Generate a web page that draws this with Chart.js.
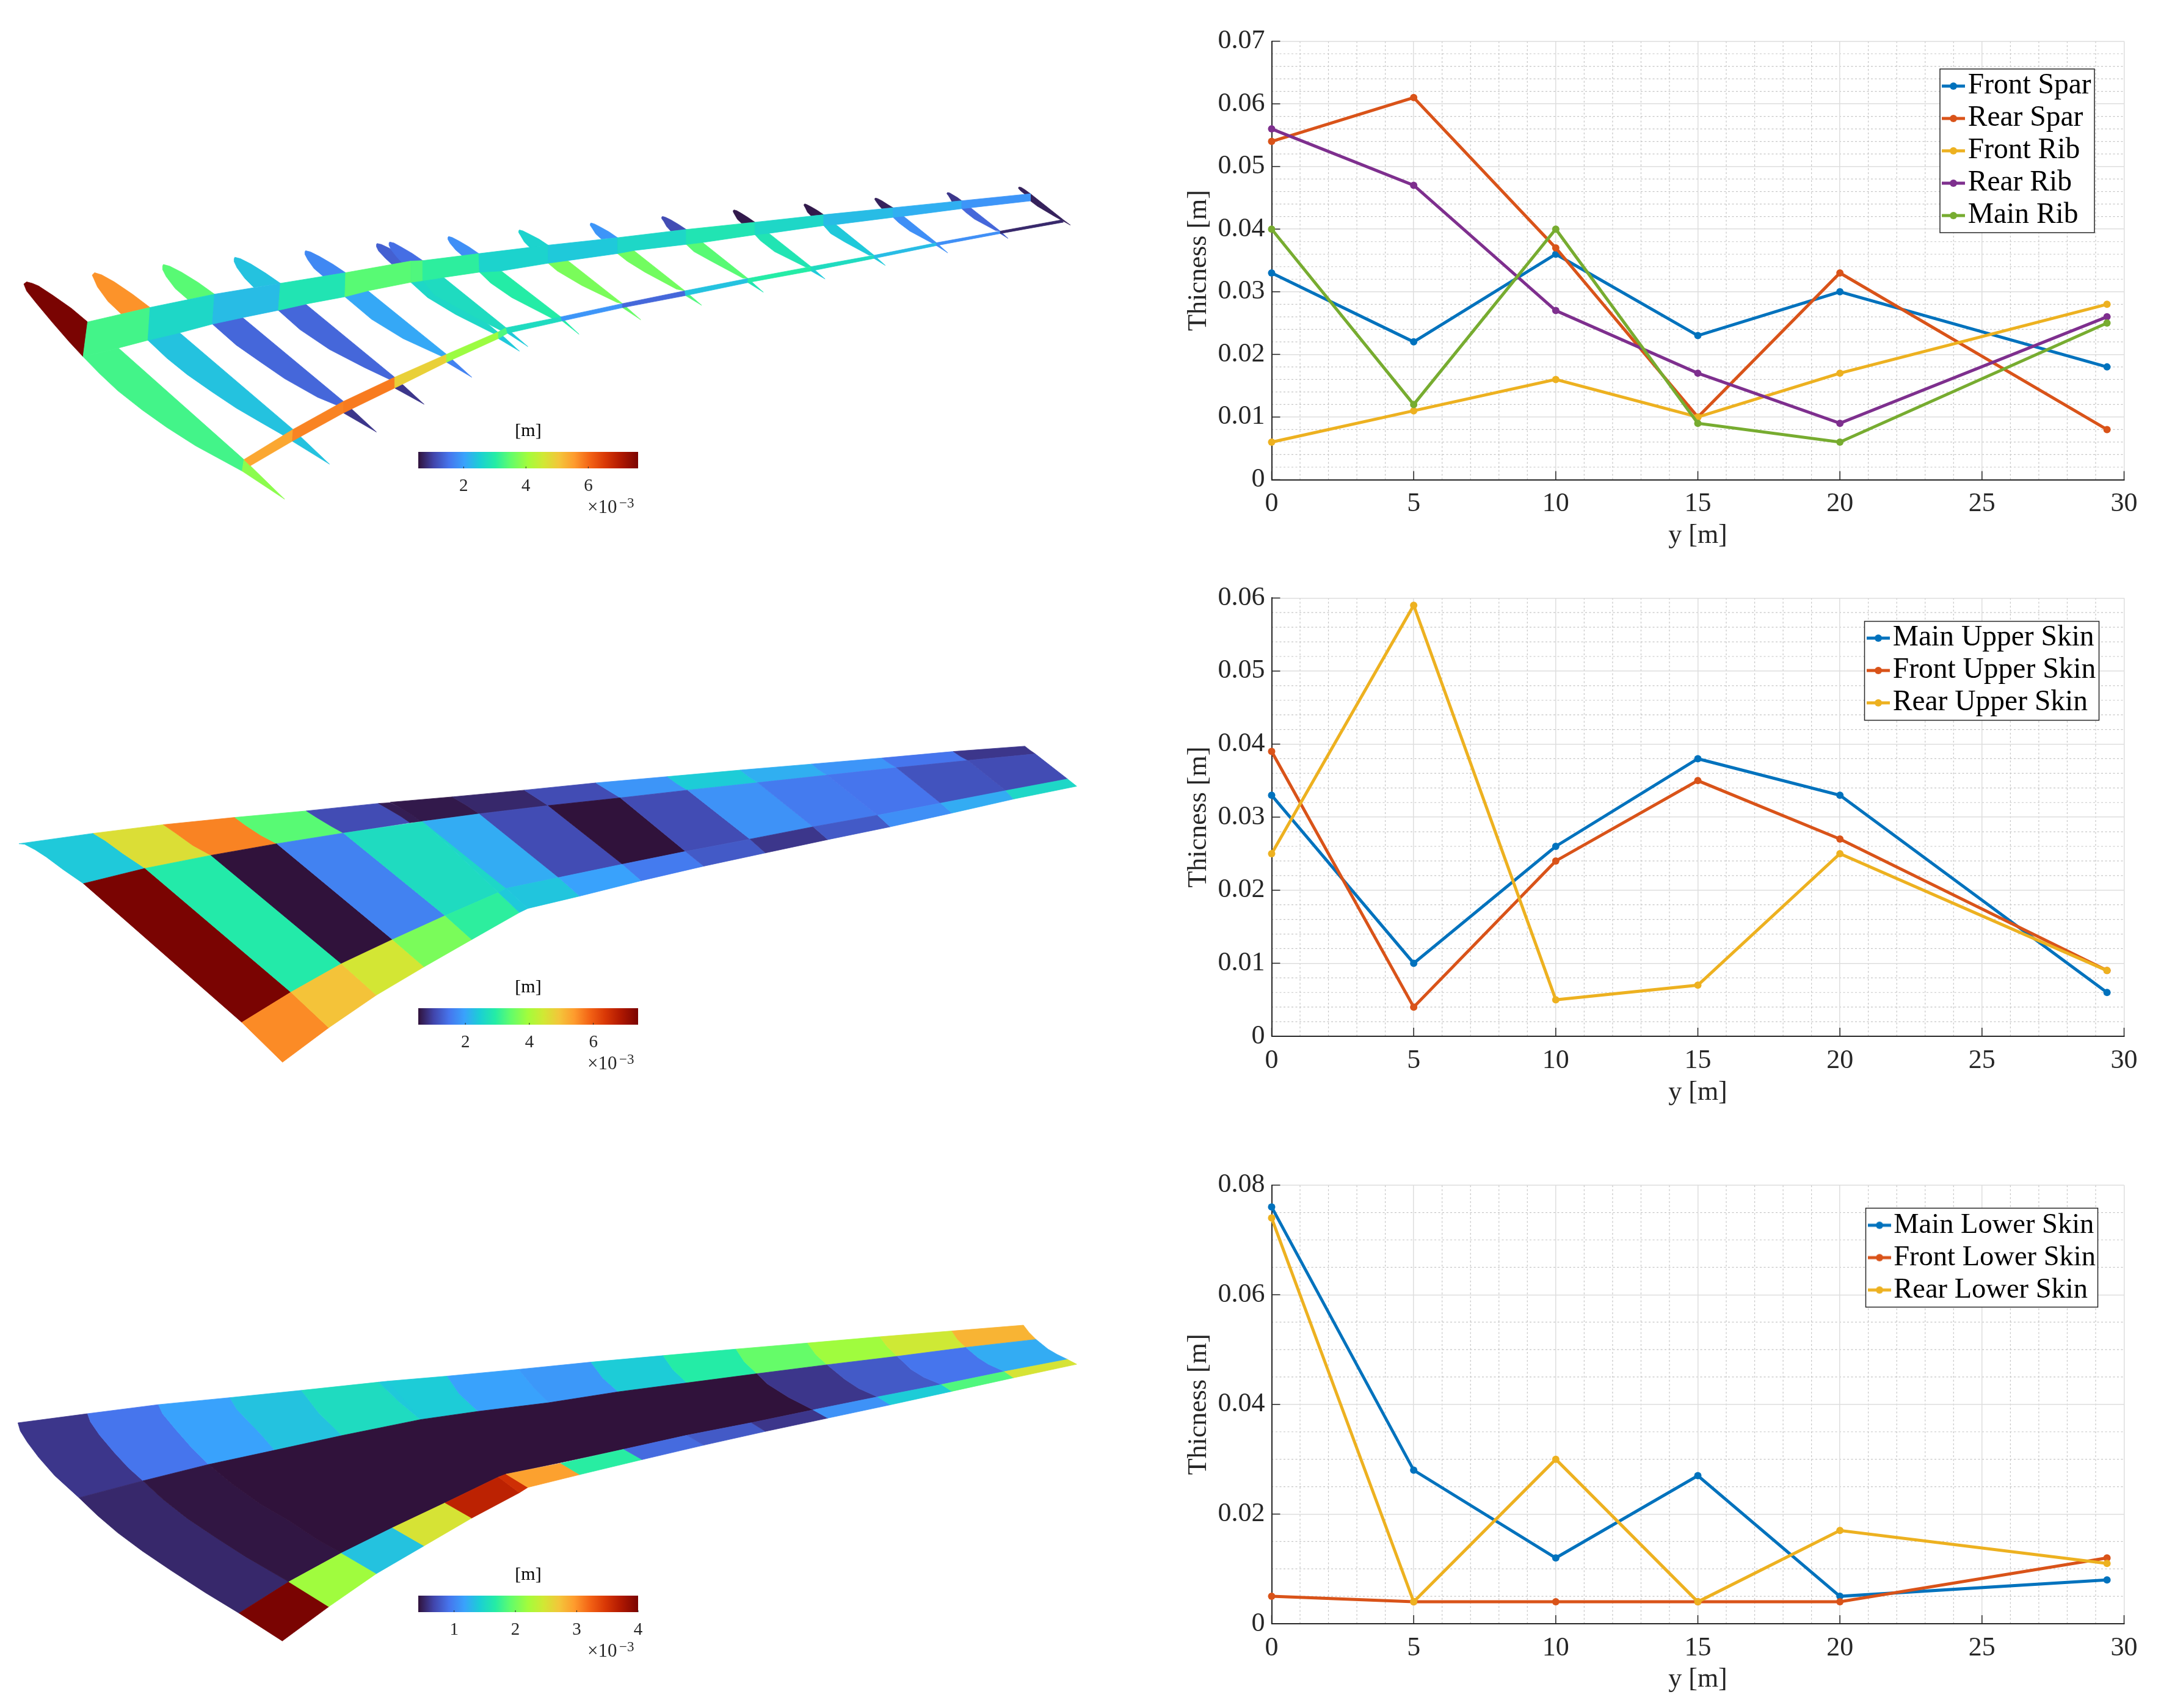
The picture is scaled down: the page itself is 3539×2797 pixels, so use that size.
<!DOCTYPE html>
<html><head><meta charset="utf-8">
<style>html,body{margin:0;padding:0;background:#fff;width:3539px;height:2797px;overflow:hidden}canvas{position:absolute;display:block}</style>
<script src="https://cdn.jsdelivr.net/npm/chart.js@4/dist/chart.umd.js"></script>
</head><body>
<script>
// ---------- line chart data ----------
const stations = [0, 5, 10, 15, 20, 29.4];
const frontSpar = [0.033, 0.022, 0.036, 0.023, 0.030, 0.018];
const rearSpar  = [0.054, 0.061, 0.037, 0.010, 0.033, 0.008];
const frontRib  = [0.006, 0.011, 0.016, 0.010, 0.017, 0.028];
const rearRib   = [0.056, 0.047, 0.027, 0.017, 0.009, 0.026];
const mainRib   = [0.040, 0.012, 0.040, 0.009, 0.006, 0.025];
const mainUpper  = [0.033, 0.010, 0.026, 0.038, 0.033, 0.006];
const frontUpper = [0.039, 0.004, 0.024, 0.035, 0.027, 0.009];
const rearUpper  = [0.025, 0.059, 0.005, 0.007, 0.025, 0.009];
const mainLower  = [0.076, 0.028, 0.012, 0.027, 0.005, 0.008];
const frontLower = [0.005, 0.004, 0.004, 0.004, 0.004, 0.012];
const rearLower  = [0.074, 0.004, 0.030, 0.004, 0.017, 0.011];
const labels1 = ['Front Spar','Rear Spar','Front Rib','Rear Rib','Main Rib'];
const labels2 = ['Main Upper Skin','Front Upper Skin','Rear Upper Skin'];
const labels3 = ['Main Lower Skin','Front Lower Skin','Rear Lower Skin'];
// ---------- colour map stops (fraction along the colour bar) ----------
const turboColors = ['#30123b','#4145ab','#4675ed','#39a2fc','#1bcfd4','#24eca6','#61fc6c','#a4fc3b','#d1e834','#f3c63a','#fe9b2d','#f36315','#d93806','#b11901','#7a0402'];
const turboStops = [0,.07,.14,.21,.28,.35,.42,.5,.57,.64,.71,.78,.85,.92,1];
// ---------- colour bar ranges (x 10^-3 m) and ticks ----------
const bar1Range=[0.543,7.6], bar1Ticks=[2,4,6];
const bar2Range=[0.527,7.4], bar2Ticks=[2,4,6];
const bar3Range=[0.416,4.0], bar3Ticks=[1,2,3,4];
// ---------- wing 1: ribs and spars (outline in projected wing units, shade along bar) ----------
const wing1Outlines = [
 [34,544,38,535,46,541,55,552,75,590,102,645,125,701,118.5,845,99,784,75,704,52,624,38,573],
 [118.5,845,169,809,348,1271,345.5,1319,279,1214,238,1138,203,1066,168,986,142,915],
 [348,1271,406,1435,345.5,1319],
 [131.5,507,135,497,145,506,163,535,189,586,214,641,173,668,154,616,139,556,134,523],
 [214,641,418,1146,405,1172,372,1117,337,1058,302,990,267,919,238,851,211,777],
 [418,1146,470,1290,417,1195],
 [232,470,233,463,242,470,259,495,283,538,306,586,268,608,250,563,237,513,232,484],
 [306,586,490,1030,488,1055,453,1013,406,936,372,868,337,797,303,710],
 [490,1030,537,1157,490,1078],
 [334,440,335,433,343,439,358,461,379,499,400,541,362,558,349,520,338,476,334,451],
 [400,541,563,930,560,945,520,890,470,815,428,733,397,653],
 [563,930,605,1042,563,975],
 [435,411,436,406,443,411,456,430,475,462,493,497,461,512,448,480,439,443,435,421],
 [493,497,637,835,635,850,575,770,530,690,492,597],
 [637,835,673,930,637,868],
 [537,380,538,376,544,380,555,395,571,421,586,449,560,465,550,438,540,407,537,389],
 [586,449,711,745,706,752,650,670,610,600,586,537],
 [711,742,741,822,711,770],
 [555,374,556,370,562,374,572,390,588,417,603,447,575,460,566,432,558,402,555,383],
 [603,447,722,725,720,745,690,700,620,590,603,530],
 [722,725,753,803,724,748],
 [639,351,640,347,645,351,655,366,669,390,683,418,660,428,650,403,642,375,639,359],
 [683,418,800,680,790,690,730,600,700,540,684,495],
 [800,680,826,752,802,697],
 [740,324,741,320,746,324,755,337,769,358,782,383,756,393,748,370,743,345,740,331],
 [782,383,888,625,880,620,830,550,795,490,782,458],
 [888,625,914,692,888,642],
 [842,295,843,291,848,295,856,307,869,328,881,352,858,358,850,337,845,314,842,301],
 [881,352,977,572,965,565,920,495,895,450,881,418],
 [977,572,1001,632,978,592],
 [944,267,945,264,949,267,957,278,968,297,979,318,957,325,951,306,947,285,944,273],
 [979,318,1067,521,1060,520,1015,450,990,410,979,380],
 [1067,521,1089,578,1067,538],
 [1046,240,1047,237,1051,240,1057,250,1067,268,1077,288,1058,293,1052,276,1048,256,1046,245],
 [1077,288,1157,472,1150,475,1105,410,1085,365,1077,340],
 [1157,472,1177,523,1157,490],
 [1147,215,1148,212,1151,215,1157,224,1166,239,1175,257,1157,262,1152,247,1149,229,1147,219],
 [1175,257,1247,425,1240,425,1205,370,1185,335,1175,302],
 [1247,425,1263,467,1247,438],
 [1248,190,1249,188,1252,190,1258,199,1266,214,1274,228,1258,232,1254,219,1250,203,1248,194],
 [1274,228,1336,373,1330,375,1298,325,1282,290,1274,268],
 [1336,373,1352,415,1336,385],
 [1351,167,1352,165,1355,167,1359,174,1366,186,1372,199,1358,203,1356,192,1353,178,1351,171],
 [1372,199,1427,325,1420,322,1390,275,1378,248,1372,232],
 [1427,325,1438,355,1427,335],
 [1453,144,1454,142,1457,144,1462,153,1470,170,1517,278,1527,300,1505,265,1480,222,1470,200,1462,172,1456,158,1453,148],
 // front spar
 [125,701,214,641,211,777,169,809,118.5,845],
 [214,641,306,586,303,710,258,745,211,777],
 [306,586,400,541,397,653,348,682,303,710],
 [400,541,493,497,492,597,440,625,397,653],
 [493,497,586,449,586,537,525,572,492,597],
 [586,449,603,447,603,530,586,537],
 [603,447,683,418,684,495,637,515,603,530],
 [683,418,782,383,782,458,715,490,684,495],
 [782,383,881,352,881,418,815,445,782,458],
 [881,352,979,318,979,380,905,405,881,418],
 [979,318,1077,288,1077,340,1003,372,979,380],
 [1077,288,1175,257,1175,302,1100,333,1077,340],
 [1175,257,1274,228,1274,268,1195,297,1175,302],
 [1274,228,1372,199,1372,232,1290,263,1274,268],
 [1372,199,1470,170,1470,200,1385,228,1372,232],
 // rear spar
 [348,1271,418,1146,417,1195,357,1297],
 [418,1146,490,1030,490,1078,417,1195],
 [490,1030,563,930,563,975,490,1078],
 [563,930,637,835,637,868,563,975],
 [637,835,711,742,711,770,637,868],
 [711,742,722,725,724,748,711,770],
 [722,725,800,680,802,697,724,748],
 [800,680,888,625,888,642,802,697],
 [888,625,977,572,978,592,888,642],
 [977,572,1067,521,1067,538,978,592],
 [1067,521,1157,472,1157,490,1067,538],
 [1157,472,1247,425,1247,438,1157,490],
 [1247,425,1336,373,1336,385,1247,438],
 [1336,373,1427,325,1427,335,1336,385],
 [1427,325,1515,278,1517,288,1427,335]
];
const wing1Shades = [
 1,.385,.47, .72,.26,.26, .41,.12,.05, .26,.12,.05, .17,.22,.16, .11,.30,.27, .13,.31,.27,
 .18,.35,.35, .29,.45,.43, .19,.44,.40, .08,.41,.33, .01,.33,.27, .01,.27,.27, .02,.18,.18, .05,.12,.10, .02,
 .385,.30,.25,.33,.41,.40,.36,.29,.27,.30,.33,.30,.25,.23,.19,
 .69,.74,.75,.62,.49,.40,.31,.19,.12,.26,.35,.31,.25,.18,.03
];
// ---------- wing 2: upper skin ----------
const wing2Outlines = [
 [27,510,133,467,150,497,175,550,207,612,119,675,90,617,66,565,50,535,35,512],
 [133,467,233,431,250,465,275,517,301,558,207,612,175,550,150,497],
 [233,431,335,401,350,433,372,475,395,510,301,558,275,517,250,465],
 [335,401,437,374,452,402,472,437,490,466,395,510,372,475,350,433],
 [437,374,540,343,555,368,572,397,585,423,490,466,472,437,452,402],
 [540,343,557,340,572,362,590,396,600,418,585,423,572,397,555,368],
 [557,338,645,316,665,350,684,386,600,418,590,396,572,362],
 [645,316,748,288,765,320,782,352,684,386,665,350],
 [748,288,850,258,868,290,885,320,782,352,765,320],
 [850,258,952,232,965,260,981,288,885,320,868,290],
 [952,232,1056,205,1068,232,1081,257,981,288,965,260],
 [1056,205,1158,180,1168,204,1180,226,1081,257,1068,232],
 [1158,180,1258,155,1268,176,1279,195,1180,226,1168,204],
 [1258,155,1360,128,1370,148,1381,165,1279,195,1268,176],
 [1360,128,1462,106,1469,122,1477,138,1381,165,1370,148],
 [119,675,207,612,415,1125,345,1250],
 [207,612,301,558,487,1007,415,1125],
 [301,558,395,510,560,907,487,1007],
 [395,510,490,466,635,808,560,907],
 [490,466,603,418,711,712,635,808],
 [603,418,612,415,722,695,711,712],
 [603,418,684,386,797,650,722,695],
 [684,386,782,352,888,595,797,650],
 [782,352,885,320,978,542,888,595],
 [885,320,981,288,1070,491,978,542],
 [981,288,1081,257,1160,440,1070,491],
 [1081,257,1180,226,1252,392,1160,440],
 [1180,226,1279,195,1342,342,1252,392],
 [1279,195,1381,165,1435,290,1342,342],
 [1381,165,1477,138,1523,242,1435,290],
 [345,1250,415,1125,469,1272,403,1415],
 [415,1125,487,1007,537,1137,469,1272],
 [487,1007,560,907,605,1020,537,1137],
 [560,907,635,808,673,907,605,1020],
 [635,808,711,712,741,795,673,907],
 [711,712,722,695,753,778,741,795],
 [722,695,797,650,827,727,753,778],
 [797,650,888,595,915,663,827,727],
 [888,595,978,542,1004,603,915,663],
 [978,542,1070,491,1092,548,1004,603],
 [1070,491,1160,440,1181,493,1092,548],
 [1160,440,1252,392,1270,440,1181,493],
 [1252,392,1342,342,1358,383,1270,440],
 [1342,342,1435,290,1446,325,1358,383],
 [1435,290,1523,242,1536,272,1446,325]
];
const wing2Shades = [
 .27,.59,.74,.41,.08,.015,.01,.03,.08,.19,.275,.23,.19,.14,.05,
 1,.345,0,.16,.31,.30,.225,.08,0,.08,.185,.15,.14,.09,.08,
 .73,.645,.575,.45,.36,.27,.265,.21,.15,.10,.05,.10,.18,.225,.30
];
// ---------- wing 3: lower skin ----------
const wing3Outlines = [
 [25.6,480.5,124.9,442.6,129,476,142,531,163,603,183,666,204,720.7,112.7,790.7,78,699,55,623,39,561,29,514.5],
 [124.9,442.6,226,405,232,443,250,506,273,582,297.6,653,204,720.7,183,666,163,603,142,531,129,476],
 [226,405,328,376,338,425,351,464,372,527,392,594,297.6,653,273,582,250,506,232,443],
 [328,376,430,346,455,440,488,533,392,594,372,527,351,464,338,425],
 [430,346,540,312,570,395,600,467,488,533,455,440],
 [540,312,553,308,585,395,600,467,570,395],
 [553,308,638,287,655,360,682,433,600,467,575,380],
 [638,287,740,259,760,330,783,397,682,433,655,360],
 [740,259,843,229,860,295,882,352,783,397,760,330],
 [843,229,946,202,960,260,980,315,882,352,860,295],
 [946,202,1050,175,1062,228,1080,277,980,315,960,260],
 [1050,175,1152,150,1164,198,1180,240,1080,277,1062,228],
 [1152,150,1255,124,1266,166,1280,205,1180,240,1164,198],
 [1255,124,1358,100,1366,135,1378,168,1280,205,1266,166],
 [1358,100,1460,76,1468,106,1478,135,1378,168,1366,135],
 [112.7,790.7,204,720.7,232,796,267,876,308,956,351,1036,412,1139,341,1268.7,293,1184,244,1092,203,1011.5,168,936,139,864],
 [204,720.7,297.6,653,331,733.5,372,818,412,885,453,965,487,1020,412,1139,351,1036,308,956,267,876,232,796],
 [297.6,653,392,594,488,533,600,467,682,433,783,397,882,352,980,315,1080,277,1095,320,1125,375,1160,427,1072,480,980,532,890,590,800,645,722,693,711,705,635,812,560,915,487,1020,453,965,412,885,372,818,331,733.5],
 [1080,277,1180,240,1205,300,1225,338,1252,373,1160,427,1125,375,1095,320],
 [1180,240,1280,205,1300,260,1318,292,1343,322,1252,373,1225,338,1205,300],
 [1280,205,1378,168,1395,210,1410,238,1433,268,1343,322,1318,292,1300,260],
 [1378,168,1478,135,1495,175,1508,197,1523,218,1433,268,1410,238,1395,210],
 [341,1268.7,412,1139,469,1242,402.7,1384],
 [412,1139,487,1020,537,1105,469,1242],
 [487,1020,560,915,605,990,537,1105],
 [560,915,635,812,673,875,605,990],
 [635,812,711,705,741,770,673,875],
 [711,705,722,693,753,748,741,770],
 [722,693,800,648,827,695,753,748],
 [800,648,890,590,916,633,827,695],
 [890,590,980,532,1004,573,916,633],
 [980,532,1072,480,1092,516,1004,573],
 [1072,480,1160,427,1181,461,1092,516],
 [1160,427,1252,373,1270,406,1181,461],
 [1252,373,1343,322,1358,350,1270,406],
 [1343,322,1433,268,1446,294,1358,350],
 [1433,268,1523,218,1536,238,1446,294]
];
const wing3Shades = [
 .05,.14,.21,.26,.31,.27,.275,.21,.195,.275,.35,.425,.495,.565,.67,
 .03,.005,0,.05,.10,.14,.225,
 1,.495,.26,.58,.90,.87,.70,.355,.125,.10,.05,.185,.275,.40,.58
];

// ---------- helpers ----------
const SERIF = '"Liberation Serif", serif';
const INK = '#262626';
function hex(c){return [1,3,5].map(i=>parseInt(c.substr(i,2),16));}
function turbo(t){
  t=Math.max(0,Math.min(1,t));
  let i=0; while(i<turboStops.length-2 && t>turboStops[i+1]) i++;
  const f=(t-turboStops[i])/(turboStops[i+1]-turboStops[i]);
  const a=hex(turboColors[i]), b=hex(turboColors[i+1]);
  return 'rgb('+a.map((v,k)=>Math.round(v+(b[k]-v)*f)).join(',')+')';
}
function makeCanvas(left,top,w,h){
  const c=document.createElement('canvas');
  c.width=w;c.height=h;
  c.style.left=left+'px';c.style.top=top+'px';c.style.width=w+'px';c.style.height=h+'px';
  document.body.appendChild(c);
  return c;
}
function legendSwatch(color){
  const c=document.createElement('canvas');c.width=38;c.height=14;
  const g=c.getContext('2d');g.fillStyle=color;g.fillRect(0,4.5,38,5);
  g.beginPath();g.arc(19,7,6,0,Math.PI*2);g.fill();
  return c;
}
const seriesColors=['#0072BD','#D95319','#EDB120','#7E2F8E','#77AC30'];

// ---------- line charts ----------
function lineChart(spec){
  const L=1900,W=1639,H=920;
  const canvasTop=Math.round(spec.plotTop-67.5);
  const plotLeft=2082.5,plotRight=3478.5;
  const cv=makeCanvas(L,canvasTop,W,H);
  const legendFont=spec.legendFont,rowPad=53-legendFont;
  const decor={
    id:'decor',
    afterLayout(chart){
      chart.legend.left=spec.swatchX-L-rowPad;
      chart.legend.top=spec.rowY-canvasTop-legendFont/2-rowPad;
    },
    beforeDraw(chart){
      const {ctx,chartArea:a,scales:{x,y}}=chart;
      ctx.save();ctx.strokeStyle='#c6c6c6';ctx.lineWidth=1.2;ctx.setLineDash([3,3.5]);
      for(let v=1;v<30;v++){ if(v%5===0)continue;
        const p=x.getPixelForValue(v);ctx.beginPath();ctx.moveTo(p,a.bottom);ctx.lineTo(p,a.top);ctx.stroke();}
      const n=Math.round(spec.yMax/spec.yMinor);
      for(let k=1;k<n;k++){ const v=k*spec.yMinor;
        if(k%spec.minorPerMajor===0)continue;
        const p=y.getPixelForValue(v);ctx.beginPath();ctx.moveTo(a.left,p);ctx.lineTo(a.right,p);ctx.stroke();}
      ctx.restore();
    },
    beforeDatasetsDraw(chart){
      const {ctx,chartArea:a,scales:{x,y}}=chart;
      ctx.save();
      ctx.strokeStyle=INK;ctx.lineWidth=1.5;
      x.ticks.forEach(t=>{const p=x.getPixelForValue(t.value);ctx.beginPath();ctx.moveTo(p,a.bottom);ctx.lineTo(p,a.bottom-14);ctx.stroke();});
      y.ticks.forEach(t=>{const p=y.getPixelForValue(t.value);ctx.beginPath();ctx.moveTo(a.left,p);ctx.lineTo(a.left+14,p);ctx.stroke();});
      const f=spec.frame;
      ctx.fillStyle='#fff';ctx.fillRect(f[0]-L,f[1]-canvasTop,f[2]-f[0],f[3]-f[1]);
      ctx.lineWidth=1.5;ctx.strokeRect(f[0]-L,f[1]-canvasTop,f[2]-f[0],f[3]-f[1]);
      ctx.restore();
      chart.legend._draw();
    }
  };
  return new Chart(cv,{
    type:'scatter',
    data:{datasets:spec.series.map((vals,i)=>({
      label:spec.labels[i],
      data:vals.map((v,k)=>({x:stations[k],y:v})),
      showLine:true,borderColor:seriesColors[i],backgroundColor:seriesColors[i],
      borderWidth:5,pointRadius:6,pointHoverRadius:6,pointBorderWidth:0,tension:0,clip:false,
      order:-i
    }))},
    options:{
      responsive:false,animation:false,devicePixelRatio:1,
      layout:{padding:{left:0,right:W-(plotRight-L),top:spec.plotTop-canvasTop,bottom:0}},
      plugins:{
        tooltip:{enabled:false},
        legend:{display:true,position:'chartArea',align:'start',
          labels:{font:{family:SERIF,size:legendFont,lineHeight:1},color:'#000',padding:rowPad,
            usePointStyle:true,boxWidth:0.01,boxHeight:14,
            generateLabels(chart){
              return chart.data.datasets.map((d,i)=>({text:d.label,datasetIndex:i,fontColor:'#000',
                pointStyle:legendSwatch(seriesColors[i]),fillStyle:seriesColors[i],strokeStyle:seriesColors[i],lineWidth:0,hidden:false}));
            }}}
      },
      scales:{
        x:{type:'linear',min:0,max:30,
          afterFit(s){s.height=H-(spec.plotBottom-canvasTop);},
          ticks:{stepSize:5,font:{family:SERIF,size:44},color:INK,padding:14,maxRotation:0,autoSkip:false},
          grid:{color:'#dedede',lineWidth:1.5,drawTicks:false},
          border:{color:INK,width:2},
          title:{display:true,text:'y [m]',font:{family:SERIF,size:44},color:INK,padding:{top:0,bottom:16}}},
        y:{type:'linear',min:0,max:spec.yMax,
          afterFit(s){s.width=plotLeft-L;},
          ticks:{stepSize:spec.yStep,font:{family:SERIF,size:44},color:INK,padding:11,autoSkip:false,
            callback:v=>String(Math.round(v*100)/100)},
          grid:{color:'#dedede',lineWidth:1.5,drawTicks:false},
          border:{color:INK,width:2},
          title:{display:true,text:'Thicness [m]',font:{family:SERIF,size:44},color:INK,padding:{top:37,bottom:0}}}
      }
    },
    plugins:[decor]
  });
}
lineChart({plotTop:67.5,plotBottom:785.5,yMax:.07,yStep:.01,yMinor:.002,minorPerMajor:5,
  series:[frontSpar,rearSpar,frontRib,rearRib,mainRib],labels:labels1,legendFont:47.5,
  frame:[3177,113,3430,381],swatchX:3199,rowY:141});
lineChart({plotTop:979.3,plotBottom:1697,yMax:.06,yStep:.01,yMinor:.002,minorPerMajor:5,
  series:[mainUpper,frontUpper,rearUpper],labels:labels2,legendFont:47.5,
  frame:[3053.5,1017.5,3437.5,1179.5],swatchX:3076,rowY:1045});
lineChart({plotTop:1940.7,plotBottom:2659,yMax:.08,yStep:.02,yMinor:.005,minorPerMajor:4,
  series:[mainLower,frontLower,rearLower],labels:labels3,legendFont:46.5,
  frame:[3055.5,1978.5,3435.5,2140.5],swatchX:3078,rowY:2006.5});

// ---------- wing patch charts ----------
function wingChart(top,outlines,shades){
  const cv=makeCanvas(0,top,1800,620);
  return new Chart(cv,{
    type:'scatter',
    data:{datasets:outlines.map((o,i)=>{
      const pts=[];for(let k=0;k<o.length;k+=2)pts.push({x:o[k],y:o[k+1]});
      pts.push({x:o[0],y:o[1]});
      const c=turbo(shades[i]);
      return {data:pts,showLine:true,fill:'shape',backgroundColor:c,borderColor:c,borderWidth:.8,pointRadius:0,tension:0,order:-i,clip:false};
    })},
    options:{responsive:false,animation:false,devicePixelRatio:1,
      layout:{padding:0},
      plugins:{legend:{display:false},tooltip:{enabled:false},title:{display:false}},
      scales:{x:{type:'linear',min:0,max:1568,display:false},y:{type:'linear',min:0,max:1568,reverse:true,display:false}}
    }
  });
}
wingChart(250,wing1Outlines,wing1Shades);
wingChart(1180,wing2Outlines,wing2Shades);
wingChart(2140,wing3Outlines,wing3Shades);

// ---------- colour bars ----------
function colorBar(barTop,range,ticks){
  const cv=makeCanvas(635,barTop-60,460,177);
  const exponent={
    id:'exponent',
    afterDraw(chart){
      const {ctx,chartArea:a,scales:{x}}=chart;
      ctx.save();
      ctx.strokeStyle=INK;ctx.lineWidth=1;
      x.ticks.forEach(t=>{const p=x.getPixelForValue(t.value);ctx.beginPath();ctx.moveTo(p,a.bottom);ctx.lineTo(p,a.bottom-3);ctx.stroke();});
      ctx.fillStyle=INK;ctx.textBaseline='middle';ctx.textAlign='left';
      ctx.font='31px '+SERIF;ctx.fillText('×10',a.right-83,a.bottom+65);
      ctx.font='23px '+SERIF;ctx.fillText('−3',a.right-31,a.bottom+58);
      ctx.restore();
    }
  };
  return new Chart(cv,{
    type:'bar',
    data:{labels:['t'],datasets:[{data:[range],barPercentage:1,categoryPercentage:1,borderWidth:0,
      backgroundColor(c){
        const a=c.chart.chartArea;if(!a)return '#000';
        const g=c.chart.ctx.createLinearGradient(a.left,0,a.right,0);
        turboStops.forEach((s,i)=>g.addColorStop(s,turboColors[i]));
        return g;
      }}]},
    options:{indexAxis:'y',responsive:false,animation:false,devicePixelRatio:1,
      layout:{padding:{left:50,right:50,top:8,bottom:0}},
      plugins:{legend:{display:false},tooltip:{enabled:false},
        title:{display:true,text:'[m]',color:'#000',font:{family:SERIF,size:30,weight:'normal',lineHeight:1.2},padding:{top:0,bottom:16}}},
      scales:{
        x:{type:'linear',min:range[0],max:range[1],
          afterBuildTicks(s){s.ticks=ticks.map(v=>({value:v}));},
          afterFit(s){s.height=90;},
          ticks:{font:{family:SERIF,size:29},color:INK,padding:12,autoSkip:false,maxRotation:0,callback:v=>String(v)},
          grid:{display:false,drawTicks:false},border:{display:false}},
        y:{display:false}
      }
    },
    plugins:[exponent]
  });
}
colorBar(740,bar1Range,bar1Ticks);
colorBar(1651,bar2Range,bar2Ticks);
colorBar(2613,bar3Range,bar3Ticks);
</script>
</body></html>
